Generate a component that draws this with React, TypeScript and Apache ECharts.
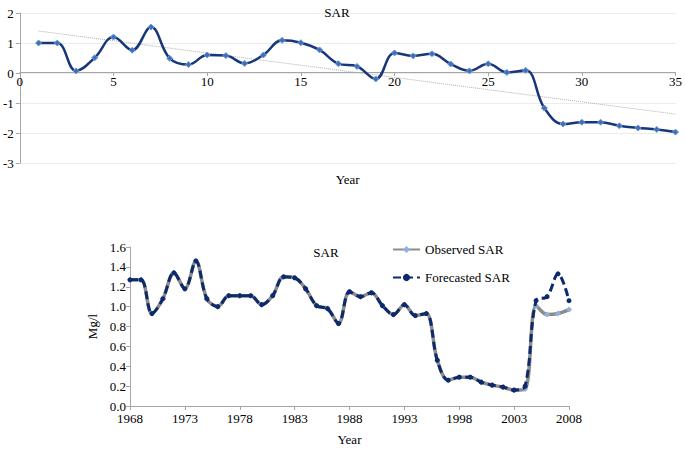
import React, { useEffect, useRef } from "react";
import * as echarts from "echarts";

// Top chart: SAR index by year number
const topYears = [1, 2, 3, 4, 5, 6, 7, 8, 9, 10, 11, 12, 13, 14, 15, 16, 17, 18, 19, 20, 21, 22, 23, 24, 25, 26, 27, 28, 29, 30, 31, 32, 33, 34, 35];
const topValues = [1.0, 1.0, 0.07, 0.51, 1.2, 0.76, 1.53, 0.49, 0.28, 0.6, 0.58, 0.32, 0.6, 1.09, 1.01, 0.77, 0.31, 0.22, -0.2, 0.67, 0.57, 0.64, 0.3, 0.07, 0.31, 0.02, 0.09, -1.17, -1.7, -1.64, -1.64, -1.76, -1.83, -1.88, -1.97];
const trendX = [1, 35];
const trendY = [1.4, -1.37];

// Bottom chart: observed vs forecasted SAR (Mg/l)
const years = [1968, 1969, 1970, 1971, 1972, 1973, 1974, 1975, 1976, 1977, 1978, 1979, 1980, 1981, 1982, 1983, 1984, 1985, 1986, 1987, 1988, 1989, 1990, 1991, 1992, 1993, 1994, 1995, 1996, 1997, 1998, 1999, 2000, 2001, 2002, 2003, 2004, 2005, 2006, 2007, 2008];
const observed = [1.27, 1.27, 0.93, 1.08, 1.34, 1.18, 1.46, 1.08, 1.0, 1.11, 1.11, 1.11, 1.02, 1.11, 1.3, 1.29, 1.18, 1.01, 0.98, 0.83, 1.15, 1.1, 1.14, 1.01, 0.92, 1.02, 0.91, 0.93, 0.46, 0.26, 0.29, 0.29, 0.24, 0.21, 0.19, 0.16, 0.17, 1.01, 0.92, 0.93, 0.97];
const forecasted = [1.27, 1.27, 0.93, 1.08, 1.34, 1.18, 1.46, 1.08, 1.0, 1.11, 1.11, 1.11, 1.02, 1.11, 1.3, 1.29, 1.18, 1.01, 0.98, 0.83, 1.15, 1.1, 1.14, 1.01, 0.92, 1.02, 0.91, 0.93, 0.46, 0.26, 0.29, 0.29, 0.24, 0.21, 0.19, 0.16, 0.2, 1.06, 1.1, 1.33, 1.06];

const FONT = "'Liberation Serif', 'Times New Roman', serif";

export default function App() {
  const ref = useRef<HTMLDivElement>(null);
  useEffect(() => {
    document.body.style.margin = "0";
    const chart = echarts.init(ref.current!, null, { renderer: "svg" });
    const txt = { fontFamily: FONT, fontSize: 13, color: "#000", fontWeight: "normal" as const };
    chart.setOption({
      animation: false,
      textStyle: { fontFamily: FONT },
      title: [
        { text: "SAR", left: 332, top: 1, textAlign: "center", textStyle: { ...txt } },
        { text: "SAR", left: 321, top: 241, textAlign: "center", textStyle: { ...txt } },
      ],
      legend: {
        data: ["Observed SAR", "Forecasted SAR"],
        orient: "vertical",
        left: 387,
        top: 238,
        itemWidth: 27,
        itemHeight: 9,
        itemGap: 15,
        textStyle: { ...txt },
      },
      grid: [
        { left: 17, right: 7, top: 13, bottom: 286, containLabel: false },
        { left: 130, right: 116, top: 247, bottom: 43, containLabel: false },
      ],
      xAxis: [
        {
          gridIndex: 0,
          type: "value",
          min: 0,
          max: 35,
          interval: 5,
          offset: -91,
          name: "Year",
          nameLocation: "middle",
          nameGap: 101,
          nameTextStyle: { ...txt },
          axisLine: { onZero: false, lineStyle: { color: "#a6a6a6" } },
          axisTick: { show: true, length: 4, lineStyle: { color: "#a6a6a6" } },
          axisLabel: { ...txt, margin: 3 },
          splitLine: { show: false },
        },
        {
          gridIndex: 1,
          type: "value",
          min: 1968,
          max: 2008,
          interval: 5,
          name: "Year",
          nameLocation: "middle",
          nameGap: 27,
          nameTextStyle: { ...txt },
          axisLine: { lineStyle: { color: "#a6a6a6" } },
          axisTick: { show: true, length: 4, lineStyle: { color: "#a6a6a6" } },
          axisLabel: { ...txt, margin: 6, formatter: (v: number) => String(v) },
          splitLine: { show: false },
        },
      ],
      yAxis: [
        {
          gridIndex: 0,
          type: "value",
          min: -3,
          max: 2,
          interval: 1,
          axisLine: { show: true, onZero: false, lineStyle: { color: "#a6a6a6" } },
          axisTick: { show: true, length: 4, lineStyle: { color: "#a6a6a6" } },
          axisLabel: { ...txt, margin: 6 },
          splitLine: { show: true, lineStyle: { color: "#ececec" } },
        },
        {
          gridIndex: 1,
          type: "value",
          min: 0,
          max: 1.6,
          interval: 0.2,
          name: "Mg/l",
          nameLocation: "middle",
          nameGap: 27,
          nameRotate: 90,
          nameTextStyle: { ...txt },
          axisLine: { show: true, lineStyle: { color: "#a6a6a6" } },
          axisTick: { show: true, length: 4, lineStyle: { color: "#a6a6a6" } },
          axisLabel: { ...txt, margin: 4, formatter: (v: number) => v.toFixed(1) },
          splitLine: { show: false },
        },
      ],
      series: [
        {
          name: "Trend",
          type: "line",
          xAxisIndex: 0,
          yAxisIndex: 0,
          data: trendX.map((x, i) => [x, trendY[i]]),
          symbol: "none",
          lineStyle: { color: "#b0b0b0", width: 1, type: "dotted" },
          silent: true,
          z: 1,
        },
        {
          name: "SAR",
          type: "line",
          xAxisIndex: 0,
          yAxisIndex: 0,
          data: topYears.map((x, i) => [x, topValues[i]]),
          smooth: 0.4,
          symbol: "diamond",
          symbolSize: 6,
          lineStyle: { color: "#17377a", width: 2.5 },
          itemStyle: { color: "#3f6fb6", borderColor: "#6f9ad6", borderWidth: 1 },
          z: 3,
        },
        {
          name: "Observed SAR",
          type: "line",
          xAxisIndex: 1,
          yAxisIndex: 1,
          data: years.map((x, i) => [x, observed[i]]),
          smooth: 0.35,
          symbol: "diamond",
          symbolSize: 6,
          lineStyle: { color: "#8c8c8c", width: 3.5 },
          itemStyle: { color: "#8fb1dc" },
          z: 2,
        },
        {
          name: "Forecasted SAR",
          type: "line",
          xAxisIndex: 1,
          yAxisIndex: 1,
          data: years.map((x, i) => [x, forecasted[i]]),
          smooth: 0.35,
          symbol: "circle",
          symbolSize: 5,
          lineStyle: { color: "#0c2a6c", width: 3, type: [8, 4] },
          itemStyle: { color: "#0c2a6c" },
          z: 3,
        },
      ],
    });
    return () => chart.dispose();
  }, []);
  return <div ref={ref} style={{ position: "absolute", left: 0, top: 0, width: 685, height: 449 }} />;
}
